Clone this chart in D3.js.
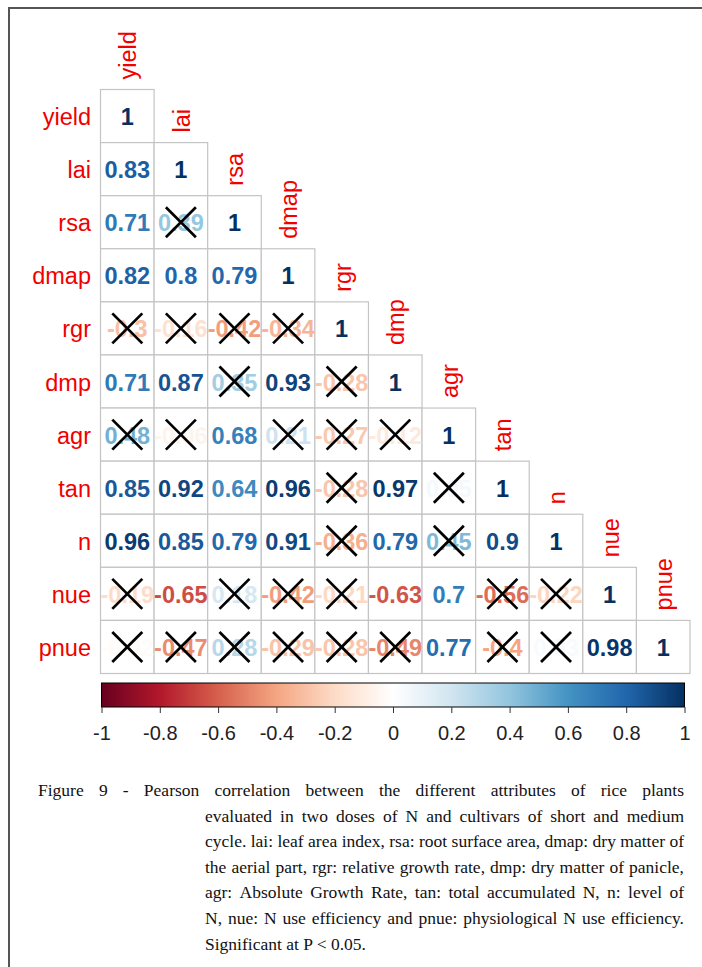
<!DOCTYPE html>
<html>
<head>
<meta charset="utf-8">
<script src="https://cdn.jsdelivr.net/npm/d3@7"></script>
<style>
  html, body { margin: 0; padding: 0; background: #fff; }
  svg { display: block; }
</style>
</head>
<body>
<svg id="chart" width="702" height="967"></svg>
<script>
// Variables in display order
const variables = ["yield", "lai", "rsa", "dmap", "rgr", "dmp", "agr", "tan", "n", "nue", "pnue"];

// Lower-triangle Pearson coefficients, one array per row (row i has i+1 values)
const rYield = [1];
const rLai   = [0.83, 1];
const rRsa   = [0.71, 0.39, 1];
const rDmap  = [0.82, 0.8, 0.79, 1];
const rRgr   = [-0.3, -0.16, -0.42, -0.34, 1];
const rDmp   = [0.71, 0.87, 0.35, 0.93, -0.28, 1];
const rAgr   = [0.48, -0.06, 0.68, 0.21, -0.27, -0.12, 1];
const rTan   = [0.85, 0.92, 0.64, 0.96, -0.28, 0.97, 0.05, 1];
const rN     = [0.96, 0.85, 0.79, 0.91, -0.36, 0.79, 0.45, 0.9, 1];
const rNue   = [-0.19, -0.65, 0.18, -0.42, -0.21, -0.63, 0.7, -0.56, -0.22, 1];
const rPnue  = [-0.02, -0.47, 0.28, -0.29, -0.28, -0.49, 0.77, -0.4, 0.03, 0.98, 1];
const corrRows = [rYield, rLai, rRsa, rDmap, rRgr, rDmp, rAgr, rTan, rN, rNue, rPnue];

// Pairs not significant at P < 0.05 (row variable -> column variables)
const notSignificant = {
  rsa:  ["lai"],
  rgr:  ["yield", "lai", "rsa", "dmap"],
  dmp:  ["rsa", "rgr"],
  agr:  ["yield", "lai", "dmap", "rgr", "dmp"],
  tan:  ["rgr", "agr"],
  n:    ["rgr", "agr"],
  nue:  ["yield", "rsa", "dmap", "rgr", "tan", "n"],
  pnue: ["yield", "lai", "rsa", "dmap", "rgr", "dmp", "tan", "n"]
};

// Colour bar ticks
const legendTicks = [-1, -0.8, -0.6, -0.4, -0.2, 0, 0.2, 0.4, 0.6, 0.8, 1];

// RdBu palette
const rdbu = ["#67001F", "#B2182B", "#D6604D", "#F4A582", "#FDDBC7", "#FFFFFF",
              "#D1E5F0", "#92C5DE", "#4393C3", "#2166AC", "#053061"];

const captionLines = [
  "Figure 9 - Pearson correlation between the different attributes of rice plants",
  "evaluated in two doses of N and cultivars of short and medium",
  "cycle. lai: leaf area index, rsa: root surface area, dmap: dry matter of",
  "the aerial part, rgr: relative growth rate, dmp: dry matter of panicle,",
  "agr: Absolute Growth Rate, tan: total accumulated N, n: level of",
  "N, nue: N use efficiency and pnue: physiological N use efficiency.",
  "Significant at P < 0.05."
];

const svg = d3.select("#chart");

// Page frame
svg.append("rect")
  .attr("x", 9).attr("y", 8).attr("width", 720).attr("height", 990)
  .attr("fill", "none").attr("stroke", "#555").attr("stroke-width", 2);

const x = d3.scaleBand().domain(variables).range([100.5, 690]);
const y = d3.scaleBand().domain(variables).range([89.5, 673.5]);

const color = d3.scaleLinear()
  .domain(d3.range(rdbu.length).map(i => -1 + 2 * i / (rdbu.length - 1)))
  .range(rdbu)
  .interpolate(d3.interpolateRgb);

const cells = [];
corrRows.forEach((row, i) => {
  row.forEach((v, j) => {
    const rv = variables[i], cv = variables[j];
    cells.push({ row: rv, col: cv, value: v,
      ns: (notSignificant[rv] || []).includes(cv) });
  });
});

const labelFont = "'Liberation Sans', Arial, sans-serif";

// Cell backgrounds and grid
svg.append("g").selectAll("rect").data(cells).join("rect")
  .attr("x", d => x(d.col)).attr("y", d => y(d.row))
  .attr("width", x.bandwidth()).attr("height", y.bandwidth())
  .attr("fill", "#fff").attr("stroke", "#c4c4c4").attr("stroke-width", 1.2);

// Coefficient values
svg.append("g").selectAll("text").data(cells).join("text")
  .attr("x", d => x(d.col) + x.bandwidth() / 2)
  .attr("y", d => y(d.row) + y.bandwidth() / 2 + 1)
  .attr("text-anchor", "middle").attr("dominant-baseline", "central")
  .attr("font-family", labelFont).attr("font-weight", "bold").attr("font-size", 23.5)
  .attr("fill", d => color(d.value))
  .text(d => String(d.value));

// Crosses over non-significant coefficients
const cross = svg.append("g").selectAll("g").data(cells.filter(d => d.ns)).join("g")
  .attr("transform", d => `translate(${x(d.col) + x.bandwidth() / 2},${y(d.row) + y.bandwidth() / 2})`);
const hs = 15;
cross.append("line").attr("x1", -hs).attr("y1", -hs).attr("x2", hs).attr("y2", hs)
  .attr("stroke", "#000").attr("stroke-width", 2.7);
cross.append("line").attr("x1", -hs).attr("y1", hs).attr("x2", hs).attr("y2", -hs)
  .attr("stroke", "#000").attr("stroke-width", 2.7);

// Row labels
svg.append("g").selectAll("text").data(variables).join("text")
  .attr("x", 91).attr("y", d => y(d) + y.bandwidth() / 2 + 1)
  .attr("text-anchor", "end").attr("dominant-baseline", "central")
  .attr("font-family", labelFont).attr("font-size", 23.5).attr("fill", "#F00000")
  .text(d => d);

// Column labels, rotated above each diagonal cell
svg.append("g").selectAll("text").data(variables).join("text")
  .attr("transform", d => `translate(${x(d) + x.bandwidth() / 2 + 1},${y(d) - 10}) rotate(-90)`)
  .attr("text-anchor", "start").attr("dominant-baseline", "central")
  .attr("font-family", labelFont).attr("font-size", 23.5).attr("fill", "#F00000")
  .text(d => d);

// Colour bar
const barX = d3.scaleLinear().domain([-1, 1]).range([101.5, 684.5]);
const barTop = 683, barH = 24;
const defs = svg.append("defs");
const grad = defs.append("linearGradient").attr("id", "rdbu-grad")
  .attr("x1", "0%").attr("x2", "100%").attr("y1", "0%").attr("y2", "0%");
grad.selectAll("stop").data(rdbu).join("stop")
  .attr("offset", (d, i) => `${100 * i / (rdbu.length - 1)}%`)
  .attr("stop-color", d => d);
svg.append("rect")
  .attr("x", barX(-1)).attr("y", barTop)
  .attr("width", barX(1) - barX(-1)).attr("height", barH)
  .attr("fill", "url(#rdbu-grad)").attr("stroke", "#000").attr("stroke-width", 1);

const axis = svg.append("g")
  .attr("transform", `translate(0,${barTop + barH})`)
  .call(d3.axisBottom(barX).tickValues(legendTicks).tickSize(6).tickPadding(13)
    .tickFormat(d => String(d)));
axis.select(".domain").remove();
axis.selectAll("line").attr("stroke", "#333");
axis.selectAll("text").attr("font-family", labelFont).attr("font-size", 20).attr("fill", "#222");

// Caption, justified between the margins
const serif = "'Liberation Serif', 'Times New Roman', serif";
const capLeft0 = 38, capLeftN = 205, capRight = 684, capTop = 796, capLead = 25.6;
const cap = svg.append("g").attr("font-family", serif).attr("font-size", 17.5).attr("fill", "#111");
captionLines.forEach((line, i) => {
  const left = i === 0 ? capLeft0 : capLeftN;
  const yy = capTop + i * capLead;
  const words = line.split(" ");
  if (i === captionLines.length - 1) {
    cap.append("text").attr("x", left).attr("y", yy).text(line);
    return;
  }
  const t = cap.append("text").attr("y", yy);
  const spans = words.map(w => t.append("tspan").text(w));
  const widths = spans.map(s => s.node().getComputedTextLength());
  const gap = (capRight - left - d3.sum(widths)) / (words.length - 1);
  let cx = left;
  spans.forEach((s, k) => { s.attr("x", cx); cx += widths[k] + gap; });
});
</script>
</body>
</html>
